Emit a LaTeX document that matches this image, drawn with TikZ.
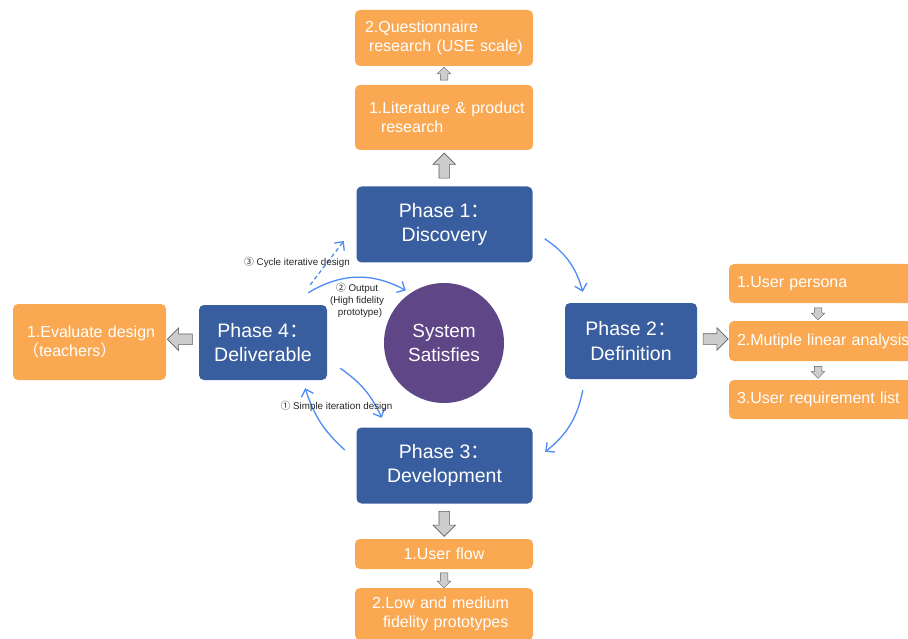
\documentclass[tikz,border=0pt]{standalone}
\usepackage{fontspec}
\setmainfont{Liberation Sans}
\newfontfamily\cjk{Noto Sans CJK SC}
\usetikzlibrary{arrows.meta,shapes.arrows,calc}
\definecolor{pblue}{RGB}{57,94,159}
\definecolor{porange}{RGB}{250,168,82}
\definecolor{ppurple}{RGB}{95,70,135}
\definecolor{abl}{RGB}{78,140,245}
\definecolor{garr}{RGB}{205,205,205}
\definecolor{garrd}{RGB}{95,95,95}
\tikzset{
  phase/.style={fill=pblue, rounded corners=5pt, text=white, align=center, inner sep=0pt,
    font=\fontsize{19.5}{24.5}\selectfont},
  sysc/.style={circle, fill=ppurple, text=white, align=center, inner sep=0pt, minimum size=120pt,
    font=\fontsize{19}{24}\selectfont},
  obox/.style={fill=porange, rounded corners=5pt, text=white, align=left, inner xsep=0pt, inner ysep=0pt,
    font=\fontsize{16}{19}\selectfont},
  flow/.style={abl, line width=1.3pt, -{Straight Barb[length=6.5pt,width=12.5pt]}},
  bigarr/.style={single arrow, draw=garrd, fill=garr, line width=0.6pt, inner sep=5pt,
    single arrow head extend=6pt, minimum height=25pt},
  smallarr/.style={single arrow, draw=garrd, fill=garr, line width=0.5pt, inner sep=3.5pt,
    single arrow head extend=3pt, minimum height=13pt},
  lbl/.style={font=\fontsize{9.8}{12}\selectfont, text=black!85, inner sep=0pt, align=center},
}
\begin{document}
\begin{tikzpicture}[x=1pt,y=1pt]
\useasboundingbox (0,0) rectangle (908,-639);
\fill[white] (0,0) rectangle (908,-639);

% phases
\node[phase, minimum width=176pt, minimum height=76pt] (p1) at (444.5,-224.5) {Phase 1{\cjk ：}\\Discovery};
\node[phase, minimum width=132pt, minimum height=76pt] (p2) at (631,-341) {Phase 2{\cjk ：}\\Definition};
\node[phase, minimum width=176pt, minimum height=76pt] (p3) at (444.5,-465.5) {Phase 3{\cjk ：}\\Development};
\node[phase, minimum width=128pt, minimum height=75pt] (p4) at (263,-342.5) {Phase 4{\cjk ：}\\Deliverable};
\node[sysc] (sys) at (444,-343) {System\\Satisfies};

% orange boxes
\node[obox, text width=178pt, minimum height=56pt] (q) at (444,-38)
  {\hspace*{10pt}2.Questionnaire\\\hspace*{14pt}research (USE scale)};
\node[obox, text width=178pt, minimum height=65pt] (lit) at (444,-117.5)
  {\hspace*{14pt}1.Literature \& product\\\hspace*{26pt}research};
\node[obox, text width=178pt, minimum height=30pt, align=center] (uf) at (444,-554) {1.User flow};
\node[obox, text width=178pt, minimum height=52pt] (lm) at (444,-614)
  {\hspace*{17pt}2.Low and medium\\\hspace*{28pt}fidelity prototypes};
\node[obox, text width=153pt, minimum height=76pt] (ev) at (89.5,-342)
  {\hspace*{14pt}1.Evaluate design\\\hspace*{10pt}{\cjk （}teachers{\cjk ）}};
\node[obox, text width=200pt, minimum height=39pt] (up) at (829,-283.5) {\hspace*{8pt}1.User persona};
\node[obox, text width=200pt, minimum height=40pt] (mla) at (829,-341) {\hspace*{8pt}2.Mutiple linear analysis};
\node[obox, text width=200pt, minimum height=39pt] (url) at (829,-399.5) {\hspace*{8pt}3.User requirement list};

% gray block arrows
\node[smallarr, rotate=90] (g1) at ($(q.south)!0.5!(lit.north)$) {};
\node[bigarr, rotate=90] (g2) at ($(lit.south)!0.5!(p1.north)$) {};
\node[bigarr] (g3) at ($(p2.east)!0.5!(mla.west)+(0,2)$) {};
\node[smallarr, rotate=-90, minimum height=12pt] (g4) at (818,-312) {};
\node[smallarr, rotate=-90, minimum height=12pt] (g5) at (818,-370.5) {};
\node[bigarr, rotate=-90] (g6) at ($(p3.south)!0.5!(uf.north)$) {};
\node[smallarr, rotate=-90, minimum height=15pt] (g7) at ($(uf.south)!0.5!(lm.north)$) {};
\node[bigarr, rotate=180] (g8) at ($(ev.east)!0.5!(p4.west)+(0,3)$) {};

% blue flow arrows
\draw[flow] ([shift={(12,24)}]p1.south east) to[bend left=20] ([shift={(18,11)}]p2.north west);
\draw[flow] ([shift={(18,-11)}]p2.south west) to[bend left=20] ([shift={(12.5,-24.5)}]p3.north east);
\draw[flow] ([shift={(13,12)}]p4.south east) to[bend left=15] ([shift={(25.5,9.5)}]p3.north west);
\draw[flow] ([shift={(-11.5,15.5)}]p3.west) to[bend left=15] ([shift={(-22,-8)}]p4.south east);
\draw[flow] ([shift={(-19,12)}]p4.north east) to[bend left=30] ($(sys.center)+(126:65)$);
\draw[flow, dashed, dash pattern=on 4pt off 3pt] ([shift={(-17,20)}]p4.north east) -- ([shift={(-12.5,-16.5)}]p1.west);

% labels
\node[lbl] (l3) at (297,-262) {{\cjk ③} Cycle iterative design};
\node[lbl] (l2) at (357,-300) {{\cjk ②} Output\\(High fidelity\\\hspace*{6pt}prototype)};
\node[lbl] (l1) at (336.5,-406) {{\cjk ①} Simple iteration design};
\end{tikzpicture}
\end{document}
